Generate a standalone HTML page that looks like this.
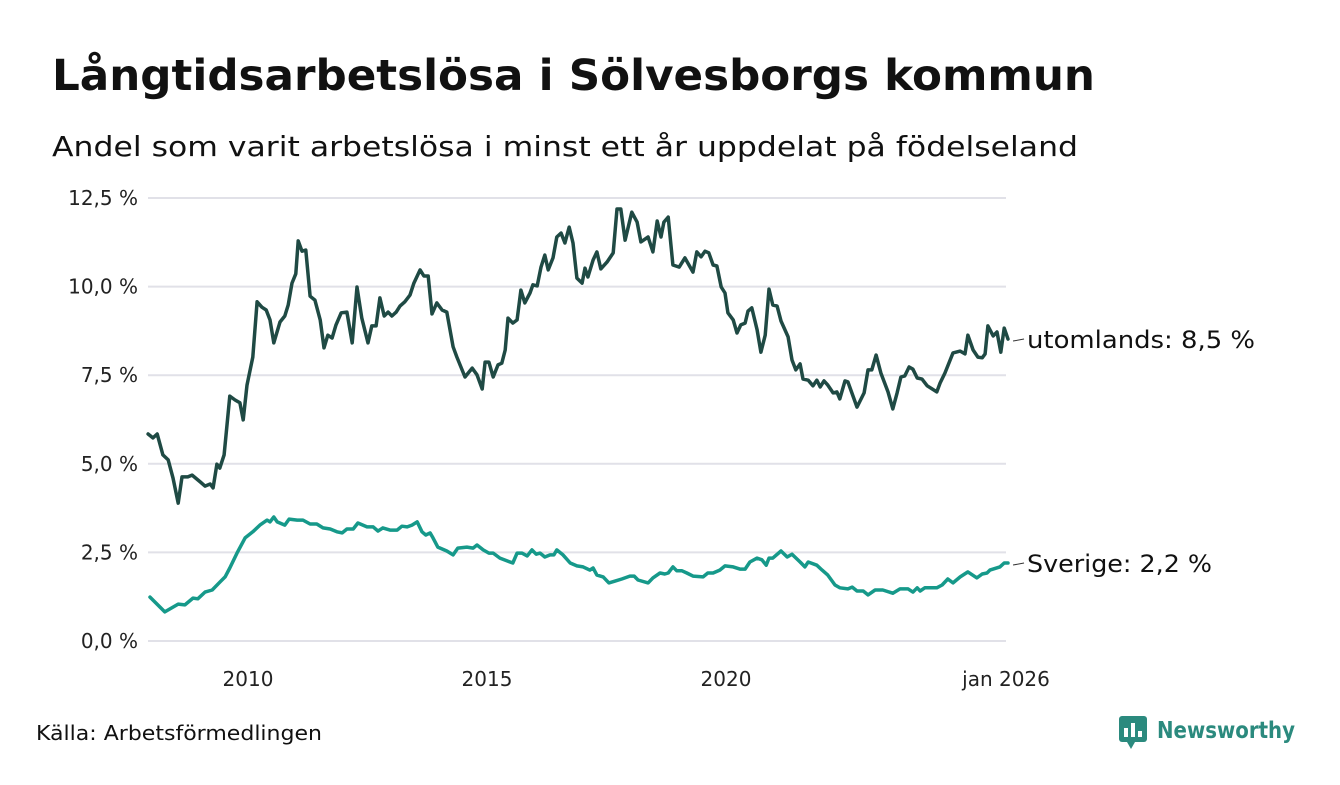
<!DOCTYPE html>
<html><head><meta charset="utf-8">
<style>
body{margin:0;background:#fff;}
svg text{font-family:"DejaVu Sans","Liberation Sans",sans-serif;}
</style></head>
<body>
<svg id="chart" width="1340" height="780" xmlns="http://www.w3.org/2000/svg">
<rect width="1340" height="780" fill="#fff"/>
<text x="52" y="90" font-size="43" font-weight="bold" fill="#111" textLength="1043" lengthAdjust="spacingAndGlyphs">Långtidsarbetslösa i Sölvesborgs kommun</text>
<text x="52" y="156" font-size="28" fill="#111" textLength="1026" lengthAdjust="spacingAndGlyphs">Andel som varit arbetslösa i minst ett år uppdelat på födelseland</text>
<g id="grid"></g>
<g id="yticks"></g>
<g id="xticks"></g>
<g id="lines"></g>
<g id="labels"></g>
<text x="36" y="740" font-size="20" fill="#111" textLength="286" lengthAdjust="spacingAndGlyphs">Källa: Arbetsförmedlingen</text>
<g>
<rect x="1119" y="716" width="28" height="26" rx="3" fill="#2b8a7e"/>
<polygon points="1127,742 1135,742 1131,749" fill="#2b8a7e"/>
<rect x="1124" y="728" width="4" height="9" fill="#fff"/>
<rect x="1131" y="723" width="4" height="14" fill="#fff"/>
<rect x="1138" y="731" width="4" height="6" fill="#fff"/>
<text x="1157" y="738" font-size="23" font-weight="bold" fill="#2b8a7e" textLength="138" lengthAdjust="spacingAndGlyphs">Newsworthy</text>
</g>
</svg>
<script>
const yTicks = [0, 2.5, 5, 7.5, 10, 12.5];
const yTickLabels = ["0,0 %", "2,5 %", "5,0 %", "7,5 %", "10,0 %", "12,5 %"];
const xTicks = [2010, 2015, 2020];
const xTickLabels = ["2010", "2015", "2020"];
const lastLabel = "jan 2026";
const foreignDates = [2007.91,2008.01,2008.10,2008.22,2008.33,2008.43,2008.54,2008.62,2008.74,2008.83,2009.00,2009.10,2009.21,2009.27,2009.35,2009.41,2009.50,2009.62,2009.73,2009.83,2009.90,2009.98,2010.10,2010.19,2010.29,2010.38,2010.46,2010.54,2010.67,2010.77,2010.84,2010.92,2011.00,2011.05,2011.13,2011.21,2011.30,2011.40,2011.51,2011.59,2011.67,2011.76,2011.84,2011.95,2012.07,2012.18,2012.28,2012.38,2012.51,2012.59,2012.68,2012.76,2012.85,2012.93,2013.01,2013.10,2013.18,2013.28,2013.39,2013.47,2013.60,2013.68,2013.77,2013.85,2013.95,2014.06,2014.16,2014.29,2014.37,2014.54,2014.69,2014.79,2014.90,2014.96,2015.04,2015.13,2015.23,2015.31,2015.38,2015.44,2015.54,2015.63,2015.71,2015.79,2015.90,2015.96,2016.05,2016.13,2016.21,2016.28,2016.38,2016.46,2016.55,2016.63,2016.72,2016.80,2016.88,2016.99,2017.05,2017.11,2017.22,2017.30,2017.38,2017.51,2017.64,2017.72,2017.80,2017.89,2018.03,2018.14,2018.22,2018.37,2018.47,2018.56,2018.64,2018.70,2018.79,2018.89,2019.02,2019.14,2019.31,2019.39,2019.48,2019.56,2019.64,2019.73,2019.81,2019.90,2019.98,2020.04,2020.15,2020.23,2020.31,2020.40,2020.46,2020.54,2020.65,2020.73,2020.82,2020.90,2020.98,2021.07,2021.15,2021.30,2021.38,2021.46,2021.55,2021.61,2021.72,2021.82,2021.90,2021.97,2022.05,2022.13,2022.24,2022.32,2022.38,2022.49,2022.55,2022.74,2022.89,2022.97,2023.05,2023.14,2023.24,2023.39,2023.49,2023.58,2023.66,2023.74,2023.83,2023.91,2024.00,2024.10,2024.21,2024.41,2024.48,2024.58,2024.75,2024.90,2025.00,2025.06,2025.17,2025.27,2025.36,2025.42,2025.48,2025.59,2025.67,2025.75,2025.82,2025.90];
const foreignValues = [5.84,5.73,5.84,5.25,5.11,4.60,3.89,4.63,4.63,4.68,4.49,4.37,4.43,4.32,4.99,4.88,5.25,6.91,6.80,6.72,6.24,7.22,8.01,9.57,9.42,9.34,9.06,8.41,9.00,9.17,9.48,10.10,10.36,11.29,11.00,11.03,9.73,9.62,9.06,8.27,8.63,8.55,8.92,9.26,9.28,8.41,9.99,9.11,8.41,8.89,8.89,9.68,9.17,9.28,9.17,9.28,9.45,9.57,9.76,10.10,10.47,10.30,10.30,9.23,9.54,9.34,9.28,8.30,8.01,7.45,7.70,7.51,7.11,7.87,7.87,7.45,7.79,7.84,8.21,9.11,8.97,9.06,9.90,9.54,9.82,10.05,10.02,10.55,10.89,10.47,10.81,11.40,11.51,11.23,11.68,11.23,10.24,10.10,10.52,10.27,10.75,10.98,10.50,10.69,10.95,12.19,12.19,11.31,12.10,11.82,11.26,11.40,10.98,11.85,11.40,11.82,11.96,10.61,10.55,10.81,10.41,10.98,10.84,11.00,10.95,10.61,10.58,9.99,9.82,9.26,9.06,8.69,8.92,8.97,9.31,9.40,8.78,8.15,8.63,9.93,9.48,9.45,9.03,8.58,7.93,7.65,7.82,7.39,7.36,7.20,7.36,7.17,7.34,7.22,7.00,7.03,6.83,7.34,7.31,6.60,7.00,7.65,7.65,8.07,7.56,7.03,6.55,7.00,7.45,7.48,7.73,7.67,7.42,7.39,7.20,7.03,7.28,7.56,8.13,8.18,8.10,8.63,8.21,8.01,7.99,8.10,8.89,8.61,8.72,8.15,8.83,8.52];
const swedenDates = [2007.95,2008.26,2008.54,2008.68,2008.85,2008.95,2009.10,2009.25,2009.41,2009.52,2009.62,2009.77,2009.94,2010.10,2010.25,2010.40,2010.46,2010.54,2010.61,2010.77,2010.86,2011.03,2011.15,2011.30,2011.44,2011.57,2011.72,2011.86,2011.97,2012.07,2012.20,2012.30,2012.49,2012.62,2012.72,2012.82,2012.97,2013.12,2013.22,2013.33,2013.43,2013.54,2013.64,2013.72,2013.81,2013.87,2013.97,2014.16,2014.29,2014.39,2014.58,2014.71,2014.79,2014.92,2015.04,2015.13,2015.27,2015.42,2015.54,2015.63,2015.73,2015.84,2015.94,2016.03,2016.11,2016.21,2016.32,2016.40,2016.46,2016.59,2016.74,2016.88,2017.01,2017.15,2017.22,2017.30,2017.43,2017.55,2017.68,2017.82,2017.99,2018.08,2018.16,2018.37,2018.47,2018.62,2018.72,2018.79,2018.89,2018.97,2019.08,2019.18,2019.31,2019.52,2019.62,2019.73,2019.87,2019.98,2020.15,2020.29,2020.40,2020.50,2020.65,2020.75,2020.84,2020.90,2020.98,2021.15,2021.28,2021.38,2021.55,2021.65,2021.72,2021.90,2022.01,2022.13,2022.28,2022.38,2022.55,2022.64,2022.74,2022.87,2022.97,2023.12,2023.28,2023.49,2023.64,2023.81,2023.91,2024.00,2024.06,2024.16,2024.41,2024.52,2024.64,2024.75,2024.90,2025.06,2025.25,2025.36,2025.46,2025.52,2025.73,2025.82,2025.90];
const swedenValues = [1.24,0.82,1.04,1.02,1.21,1.19,1.38,1.44,1.66,1.81,2.06,2.48,2.91,3.08,3.27,3.41,3.36,3.50,3.36,3.27,3.44,3.41,3.41,3.30,3.30,3.19,3.16,3.08,3.05,3.16,3.16,3.33,3.22,3.22,3.10,3.19,3.13,3.13,3.24,3.22,3.27,3.36,3.08,2.99,3.05,2.91,2.65,2.54,2.43,2.62,2.65,2.62,2.71,2.57,2.48,2.48,2.34,2.26,2.20,2.48,2.48,2.40,2.57,2.45,2.48,2.37,2.43,2.43,2.57,2.43,2.20,2.12,2.09,2.00,2.06,1.86,1.81,1.64,1.69,1.75,1.83,1.83,1.72,1.64,1.78,1.92,1.89,1.92,2.09,1.98,1.98,1.92,1.83,1.81,1.92,1.92,2.00,2.12,2.09,2.03,2.03,2.23,2.34,2.29,2.14,2.34,2.34,2.54,2.37,2.45,2.23,2.09,2.23,2.14,2.00,1.86,1.58,1.50,1.47,1.52,1.41,1.41,1.30,1.44,1.44,1.35,1.47,1.47,1.38,1.50,1.41,1.50,1.50,1.58,1.75,1.64,1.81,1.95,1.78,1.89,1.92,2.00,2.09,2.20,2.20];
const seriesNames = ["utomlands", "Sverige"];
const seriesLabelWidths = [228, 185];

const NS = "http://www.w3.org/2000/svg";
const xScale = yr => 248 + (yr - 2010) * 47.8;
const yScale = v => 641 - v * 35.44;
const plotLeft = 148, plotRight = 1006;
function mk(tag, attrs, parent) {
  const e = document.createElementNS(NS, tag);
  for (const k in attrs) e.setAttribute(k, attrs[k]);
  parent.appendChild(e);
  return e;
}
const grid = document.getElementById('grid');
const yt = document.getElementById('yticks');
yTicks.forEach((t, i) => {
  const l = mk('line', {x1: plotLeft, x2: plotRight, y1: yScale(t), y2: yScale(t), stroke: '#e1e1e8', 'stroke-width': 2}, grid);
  
  
  const tx = mk('text', {x: 138, y: yScale(t) + 7, 'text-anchor': 'end', 'font-size': 20, fill: '#222'}, yt);
  tx.textContent = yTickLabels[i];
  
  
});
const xt = document.getElementById('xticks');
xTicks.forEach((t, i) => {
  const tx = mk('text', {x: xScale(t), y: 686, 'text-anchor': 'middle', 'font-size': 20, fill: '#222'}, xt);
  tx.textContent = xTickLabels[i];
  
  
});
const lastX = xScale(foreignDates[foreignDates.length - 1]);
const lt = mk('text', {x: lastX - 2, y: 686, 'text-anchor': 'middle', 'font-size': 20, fill: '#222'}, xt);
lt.textContent = lastLabel;



const lines = document.getElementById('lines');
const labels = document.getElementById('labels');
function drawSeries(dates, vals, color, name, w) {
  const d = dates.map((t, i) => (i ? 'L' : 'M') + xScale(t).toFixed(1) + ',' + yScale(vals[i]).toFixed(1)).join('');
  const p = mk('path', {d: d, fill: 'none', stroke: color, 'stroke-width': 3.5, 'stroke-linejoin': 'round', 'stroke-linecap': 'round'}, lines);
  
  
  const lv = vals[vals.length - 1];
  const lx = xScale(dates[dates.length - 1]);
  const ly = yScale(lv);
  const ld = mk('line', {x1: lx + 5, x2: lx + 16, y1: ly + 2, y2: ly, stroke: '#333', 'stroke-width': 1}, labels);
  
  
  const tx = mk('text', {x: lx + 19, y: ly + 9, 'font-size': 24, fill: '#111', textLength: w, lengthAdjust: 'spacingAndGlyphs'}, labels);
  tx.textContent = name + ': ' + lv.toFixed(1).replace('.', ',') + ' %';
  
  
}
drawSeries(foreignDates, foreignValues, '#1f4a44', seriesNames[0], seriesLabelWidths[0]);
drawSeries(swedenDates, swedenValues, '#16998a', seriesNames[1], seriesLabelWidths[1]);
</script>
</body></html>
